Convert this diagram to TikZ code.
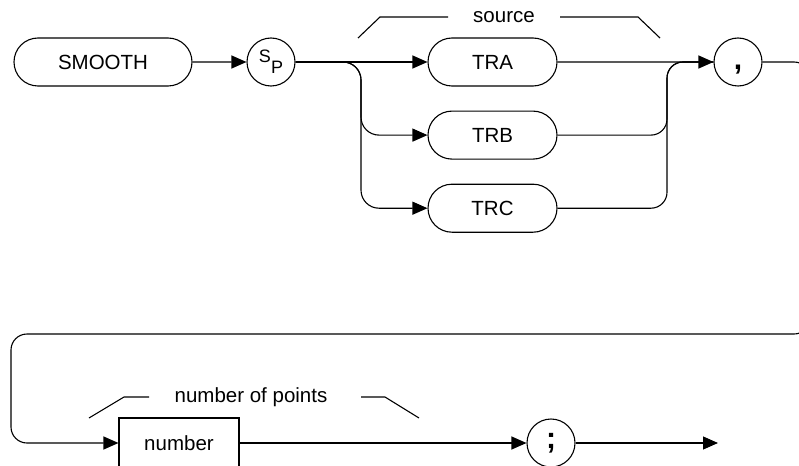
\documentclass[tikz,border=0pt]{standalone}
\usepackage{fontspec}
\setmainfont{Liberation Sans}
\usetikzlibrary{arrows.meta,positioning,shapes.misc}

\begin{document}
\begin{tikzpicture}[
      x=1pt, y=-1pt,
      line width=1.1pt,
      keyword/.style={rounded rectangle, draw, font=\fontsize{20.5}{24}\selectfont,
                      minimum height=48pt, inner sep=0pt},
      punct/.style={circle, draw, minimum size=48pt, inner sep=0pt,
                    font=\fontsize{30}{34}\selectfont\bfseries},
      param/.style={rectangle, draw, minimum height=50pt, minimum width=120pt,
                    inner sep=0pt, font=\fontsize{20.5}{24}\selectfont},
      lbl/.style={inner sep=0pt, font=\fontsize{20.5}{24}\selectfont},
      >={Triangle[length=15pt,width=13pt]}
    ]
    \useasboundingbox (0,0) rectangle (799,465);
    \clip (0,0) rectangle (799,465);

    % first line
    \node[keyword, minimum width=178pt] (smooth) at (103,62) {SMOOTH};
    \node[punct, font=\fontsize{18}{20}\selectfont] (sp) at (271,62) {\raisebox{4pt}{S}\raisebox{-7pt}{P}};
    \node[keyword, minimum width=129pt] (tra) at (492.5,62) {TRA};
    \node[keyword, minimum width=129pt, below=24pt of tra] (trb) {TRB};
    \node[keyword, minimum width=129pt, below=24pt of trb] (trc) {TRC};
    \node[punct] (comma) at (738,62) {\vphantom{A},};

    \coordinate (split) at (361,62);
    \coordinate (join) at (667,62);
    \coordinate (wrapR) at (810,198);
    \coordinate (wrapL) at (11,334);

    \node[lbl] (srclbl) at (504,17) {source};
    \draw (358,38) -- (380,17) -- (448,17);
    \draw (560,17) -- (638,17) -- (660,38);

    % second line
    \node[param] (number) at (179,443) {number};
    \node[punct] (semi) at (551,443) {;};
    \coordinate (endpt) at (718,443);

    \node[lbl] (ptslbl) at (251,397) {number of points};
    \draw (89,418) -- (124,397) -- (149,397);
    \draw (361,397) -- (385,397) -- (419,418);

    \draw[->] (smooth) -- (sp);
    \draw[->] (sp) -- (tra);
    \draw[->, rounded corners=18pt] (sp.east) -- (split) |- (trb.west);
    \draw[->, rounded corners=18pt] (sp.east) -- (split) |- (trc.west);
    \draw[->] (tra) -- (comma);
    \draw[rounded corners=16pt] (trb.east) -| (join) -- (comma.west);
    \draw[rounded corners=16pt] (trc.east) -| (join) -- (comma.west);
    \draw[->, rounded corners=16pt] (comma.east) -| (wrapR) |- (wrapL) |- (number.west);
    \draw[->] (number) -- (semi);
    \draw[->] (semi) -- (endpt);
  \end{tikzpicture}
\end{document}
